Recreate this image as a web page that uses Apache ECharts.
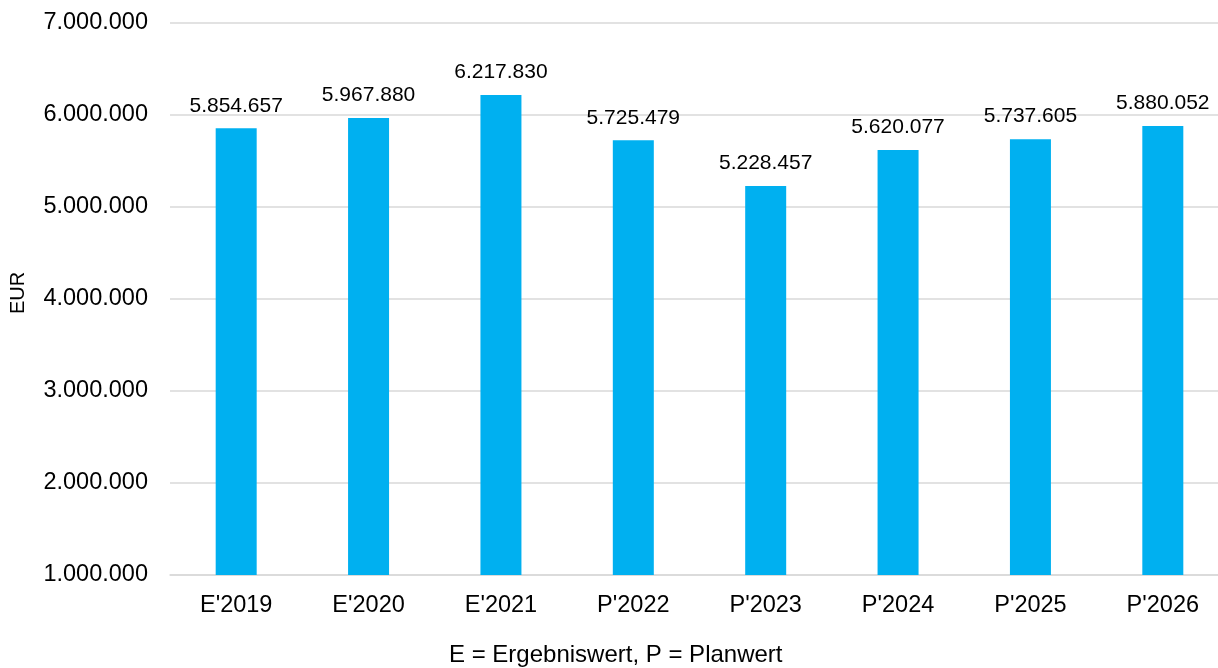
<!DOCTYPE html>
<html>
<head>
<meta charset="utf-8">
<script src="https://cdn.jsdelivr.net/npm/echarts@6/dist/echarts.min.js"></script>
<style>
  html, body { margin: 0; padding: 0; background: #fff; overflow: hidden; }
  #main { width: 1240px; height: 668px; }
</style>
</head>
<body>
<div id="main"></div>
<script>
// Werte je Jahr (E = Ergebniswert, P = Planwert)
const categories = ["E'2019", "E'2020", "E'2021", "P'2022", "P'2023", "P'2024", "P'2025", "P'2026"];
const values = [5854657, 5967880, 6217830, 5725479, 5228457, 5620077, 5737605, 5880052];
const yTicks = [1000000, 2000000, 3000000, 4000000, 5000000, 6000000, 7000000];
const footNote = 'E = Ergebniswert, P = Planwert';

const font = '"Liberation Sans", Arial, sans-serif';

// 1.234.567 Schreibweise
function fmt(v) {
  return String(Math.round(v)).replace(/\B(?=(\d{3})+(?!\d))/g, '.');
}

const chart = echarts.init(document.getElementById('main'), null, { renderer: 'canvas' });

chart.setOption({
  animation: false,
  textStyle: { fontFamily: font, color: '#000' },
  grid: { left: 169, top: 23, width: 1060, height: 552, containLabel: false },
  title: {
    text: footNote,
    left: 449,
    top: 643,
    padding: 0,
    textStyle: { fontFamily: font, fontSize: 24, fontWeight: 'normal', color: '#000' }
  },
  xAxis: {
    type: 'category',
    data: categories,
    axisTick: { show: false },
    axisLine: { lineStyle: { color: '#d9d9d9', width: 1.5 } },
    axisLabel: { fontFamily: font, fontSize: 23.5, color: '#000', margin: 19 }
  },
  yAxis: {
    type: 'value',
    min: yTicks[0],
    max: yTicks[yTicks.length - 1],
    interval: 1000000,
    name: 'EUR',
    nameLocation: 'middle',
    nameGap: 142,
    nameTextStyle: { fontFamily: font, fontSize: 20, color: '#000', padding: [0, 0, 0, 12] },
    axisLine: { show: false },
    axisTick: { show: false },
    splitLine: { lineStyle: { color: '#d9d9d9', width: 1.5 } },
    axisLabel: { fontFamily: font, fontSize: 23.5, color: '#000', margin: 22, formatter: fmt }
  },
  series: [{
    type: 'bar',
    data: values,
    barWidth: 41,
    itemStyle: { color: '#00b0f0' },
    label: {
      show: true,
      position: 'top',
      distance: 12,
      fontFamily: font,
      fontSize: 21,
      color: '#000',
      formatter: p => fmt(p.value)
    }
  }]
});
</script>
</body>
</html>
